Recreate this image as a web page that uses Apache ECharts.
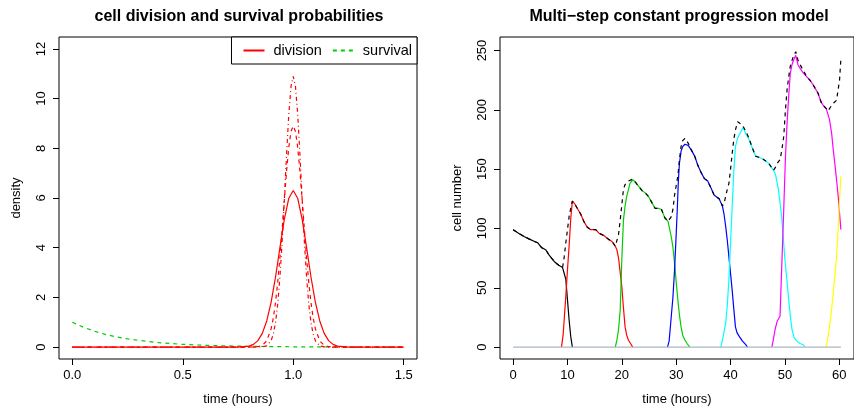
<!DOCTYPE html>
<html>
<head>
<meta charset="utf-8">
<script src="https://cdn.jsdelivr.net/npm/echarts@6/dist/echarts.min.js"></script>
<style>html,body{margin:0;padding:0;background:#fff}#c{width:854px;height:411px}</style>
</head>
<body>
<div id="c"></div>
<script>
// ---------- Left panel data ----------
const leftTicksX = [0, 0.5, 1, 1.5];
const leftTicksY = [0, 2, 4, 6, 8, 10, 12];
const divisionSolid = [[0,0],[0.6,0],[0.75,0],[0.8,0.04],[0.82,0.11],[0.84,0.26],[0.86,0.55],[0.88,1.05],[0.9,1.81],[0.92,2.83],[0.94,4.02],[0.96,5.16],[0.98,5.99],[1.0,6.3],[1.02,5.99],[1.04,5.16],[1.06,4.02],[1.08,2.83],[1.1,1.81],[1.12,1.05],[1.14,0.55],[1.16,0.26],[1.18,0.11],[1.2,0.04],[1.25,0],[1.5,0]];
const divisionDashed = [[0,0],[0.8,0],[0.84,0.015],[0.86,0.07],[0.88,0.25],[0.9,0.74],[0.91,1.18],[0.92,1.81],[0.93,2.63],[0.94,3.63],[0.95,4.77],[0.96,5.97],[0.97,7.11],[0.98,8.05],[0.99,8.68],[1.0,8.9],[1.01,8.68],[1.02,8.05],[1.03,7.11],[1.04,5.97],[1.05,4.77],[1.06,3.63],[1.07,2.63],[1.08,1.81],[1.09,1.18],[1.1,0.74],[1.12,0.25],[1.14,0.07],[1.16,0.015],[1.2,0],[1.5,0]];
const divisionDotDash = [[0,0],[0.84,0],[0.86,0.01],[0.88,0.05],[0.9,0.26],[0.91,0.53],[0.92,1.0],[0.93,1.75],[0.94,2.85],[0.95,4.29],[0.96,6.0],[0.97,7.79],[0.98,9.39],[0.99,10.5],[1.0,10.9],[1.01,10.5],[1.02,9.39],[1.03,7.79],[1.04,6.0],[1.05,4.29],[1.06,2.85],[1.07,1.75],[1.08,1.0],[1.09,0.53],[1.1,0.26],[1.12,0.05],[1.14,0.01],[1.16,0],[1.5,0]];
const survival = [[0,1.0],[0.05,0.8],[0.1,0.64],[0.15,0.51],[0.2,0.41],[0.25,0.33],[0.3,0.27],[0.4,0.17],[0.5,0.11],[0.6,0.07],[0.7,0.046],[0.8,0.03],[0.9,0.02],[1.0,0.012],[1.1,0.008],[1.2,0.005],[1.3,0.003],[1.4,0.002],[1.5,0.001]];

// ---------- Right panel data ----------
const rightTicksX = [0, 10, 20, 30, 40, 50, 60];
const rightTicksY = [0, 50, 100, 150, 200, 250];
const gen0 = [[0,99],[0.3,98],[1,96],[2.1,93],[3,91],[3.95,89],[4.5,88],[5.2,84],[6,82],[6.7,77],[7.6,72],[8.4,69],[9.1,67],[9.4,62],[9.7,57],[10.0,40],[10.3,23],[10.6,9],[10.9,0]];
const gen1 = [[8.9,0],[9.2,10],[9.5,30],[9.7,43],[10.0,65],[10.3,85],[10.6,108],[10.9,123],[11.3,121],[11.8,117],[12.45,112],[13,106],[13.65,101],[14.3,99],[15.2,99],[15.8,96],[16.7,94],[17.5,91],[18.2,89],[18.8,85],[19.1,82],[19.4,75],[19.7,63],[20.0,51],[20.3,33],[20.6,17],[20.9,10],[21.2,6],[21.6,3],[22.0,0]];
const gen2 = [[18.8,0],[19.1,6],[19.4,15],[19.7,31],[20.0,74],[20.3,107],[20.6,119],[20.9,127],[21.5,138],[22.0,141],[22.5,139],[23.0,136],[23.7,132],[24.3,130],[24.9,127],[25.5,122],[26.1,117],[26.7,117],[27.3,116],[27.9,109],[28.5,106],[29.1,93],[29.4,84],[29.7,71],[30.0,55],[30.3,40],[30.6,27],[30.9,17],[31.2,10],[31.6,6],[32.0,3],[32.5,0]];
const gen3 = [[28.4,0],[28.7,5],[29.1,26],[29.4,42],[29.7,65],[30.0,95],[30.2,116],[30.4,140],[30.6,155],[30.9,165],[31.2,169],[31.6,171],[32.2,170],[32.8,166],[33.4,161],[34.0,153],[34.6,147],[35.2,142],[35.8,140],[36.4,134],[37.0,128],[37.9,125],[38.5,119],[38.8,112],[39.1,102],[39.4,90],[39.7,76],[40.0,62],[40.3,48],[40.6,32],[40.9,17],[41.2,12],[41.6,9],[42.2,5],[42.8,2],[43.1,0]];
const gen4 = [[38.2,0],[38.6,8],[39.1,20],[39.4,35],[39.7,57],[40.0,88],[40.3,118],[40.6,148],[40.9,169],[41.3,176],[41.6,179],[42.3,185],[42.8,180],[43.4,175],[44.0,168],[44.6,161],[45.2,160],[45.8,159],[46.4,157],[47.0,155],[47.9,149],[48.3,145],[48.8,133],[49.1,122],[49.4,110],[49.7,92],[50.0,74],[50.4,55],[50.7,40],[51.0,26],[51.3,15],[51.7,8],[52.2,5],[52.8,3],[53.4,2],[53.6,0]];
const gen5 = [[47.6,0],[47.9,7],[48.2,15],[48.6,22],[49.1,26],[49.4,65],[49.8,118],[50.1,160],[50.4,189],[50.7,212],[51.0,231],[51.3,238],[51.6,242],[52.0,246],[52.4,238],[52.8,235],[53.4,231],[54.0,228],[54.6,225],[55.2,221],[55.7,217],[56.1,214],[56.7,206],[57.2,203],[57.6,201],[58.2,192],[58.6,180],[58.9,166],[59.2,154],[59.5,141],[59.8,127],[60.05,113],[60.3,99]];
const gen6 = [[57.6,0],[57.9,8],[58.2,17],[58.6,32],[58.9,46],[59.2,60],[59.5,76],[59.8,100],[60.05,124],[60.3,144]];
const zeroLine = [[0,0],[60.3,0]];
const total = [[0,99],[0.3,98],[1,96],[2.1,93],[3,91],[3.95,89],[4.5,88],[5.2,84],[6,82],[6.7,77],[7.6,72],[8.4,69],[9.1,67],[9.4,76],[9.7,88],[10.0,99],[10.3,110],[10.6,117],[10.9,123],[11.3,121],[11.8,117],[12.45,112],[13,106],[13.65,101],[14.3,99],[15.2,99],[15.8,96],[16.7,94],[17.5,91],[18.2,89],[18.8,85],[19.1,86],[19.4,95],[19.7,107],[20.0,120],[20.3,133],[20.6,137],[21.2,140],[22.0,141.6],[22.5,139],[23.0,136],[23.7,132],[24.3,130],[24.9,127],[25.5,122],[26.1,117],[26.7,117],[27.3,116],[27.9,109],[28.5,106],[28.8,106],[29.1,110],[29.4,116],[29.7,128],[30.0,136],[30.3,144],[30.6,158],[30.9,169],[31.2,174],[31.6,176],[32.2,172],[32.8,166],[33.4,161],[34.0,153],[34.6,147],[35.2,142],[35.8,140],[36.4,134],[37.0,128],[37.9,125],[38.5,119],[38.8,121],[39.1,127],[39.4,133],[39.7,138],[40.0,150],[40.3,163],[40.6,175],[40.9,183],[41.3,190],[42.2,187],[42.8,182],[43.4,176],[44.0,168],[44.6,161],[45.2,160],[45.8,159],[46.4,157],[47.0,155],[47.9,149],[48.2,151],[48.6,155],[49.1,158],[49.4,165],[49.8,178],[50.1,200],[50.4,217],[50.7,228],[51.0,237],[51.6,246],[52.0,249],[52.4,242],[52.8,238],[53.4,233],[54.0,228],[54.6,225],[55.2,221],[55.7,217],[56.1,214],[56.7,206],[57.2,203],[57.6,201],[57.9,199],[58.2,201],[58.5,203],[59.0,206],[59.5,208],[59.8,209],[60.05,225],[60.3,243]];

const FONT = '"Liberation Sans", Arial, Helvetica, sans-serif';
const chart = echarts.init(document.getElementById('c'), null, {renderer: 'canvas'});

function xAxisCfg(grid, min, max, ticks, name, fmt) {
  return {
    type: 'value', gridIndex: grid, min: min, max: max, position: 'bottom',
    name: name, nameLocation: 'middle', nameGap: 34,
    nameTextStyle: {fontFamily: FONT, fontSize: 13, color: '#000'},
    axisLine: {show: false, onZero: false},
    axisTick: {show: true, inside: false, length: 6, lineStyle: {color: '#000', width: 1}, customValues: ticks},
    axisLabel: {show: true, margin: 10, fontFamily: FONT, fontSize: 13, color: '#000', customValues: ticks, formatter: fmt},
    splitLine: {show: false}
  };
}
function yAxisCfg(grid, min, max, ticks, name) {
  return {
    type: 'value', gridIndex: grid, min: min, max: max, position: 'left',
    name: name, nameLocation: 'middle', nameGap: 36,
    nameTextStyle: {fontFamily: FONT, fontSize: 13, color: '#000'},
    axisLine: {show: false, onZero: false},
    axisTick: {show: true, inside: false, length: 6, lineStyle: {color: '#000', width: 1}, customValues: ticks},
    axisLabel: {show: true, margin: 11, rotate: 90, fontFamily: FONT, fontSize: 13, color: '#000', customValues: ticks, formatter: v => String(v)},
    splitLine: {show: false}
  };
}
function line(name, data, color, type, xi, z) {
  return {
    name: name, type: 'line', data: data, xAxisIndex: xi, yAxisIndex: xi,
    symbol: 'none', smooth: false, silent: true, z: z || 2,
    lineStyle: {color: color, width: 1.2, type: type},
    itemStyle: {color: color}
  };
}

const option = {
  animation: false,
  backgroundColor: '#fff',
  title: [
    {text: 'cell division and survival probabilities', left: 234, top: 4, textAlign: 'center',
     textStyle: {fontFamily: FONT, fontSize: 16, fontWeight: 'bold', color: '#000'}},
    {text: 'Multi\u2212step constant progression model', left: 674, top: 4, textAlign: 'center',
     textStyle: {fontFamily: FONT, fontSize: 16, fontWeight: 'bold', color: '#000'}}
  ],
  legend: {
    data: ['division', 'survival'],
    right: 437, top: 37, orient: 'horizontal',
    borderColor: '#000', borderWidth: 1, backgroundColor: '#fff', borderRadius: 0,
    padding: [6, 5, 6, 11], itemGap: 10, itemWidth: 21, itemHeight: 12,
    selectedMode: false,
    itemStyle: {opacity: 0},
    lineStyle: {opacity: 1},
    textStyle: {fontFamily: FONT, fontSize: 14.5, lineHeight: 13, color: '#000', padding: [0, 0, 0, 4]}
  },
  grid: [
    {left: 59, right: 437, top: 37, bottom: 52, show: true, borderColor: '#000', borderWidth: 1, backgroundColor: 'transparent'},
    {left: 500, right: -4, top: 37, bottom: 52, show: true, borderColor: '#000', borderWidth: 1, backgroundColor: 'transparent'}
  ],
  xAxis: [
    xAxisCfg(0, -0.06, 1.56, leftTicksX, 'time (hours)', v => v.toFixed(1)),
    xAxisCfg(1, -2.41, 62.71, rightTicksX, 'time (hours)', v => String(v))
  ],
  yAxis: [
    yAxisCfg(0, -0.48, 12.48, leftTicksY, 'density'),
    yAxisCfg(1, -10.06, 261.4, rightTicksY, 'cell number')
  ],
  series: [
    line('survival', survival, '#00CD00', [4, 4], 0, 2),
    line('division', divisionSolid, '#FF0000', 'solid', 0, 3),
    line('division (dashed)', divisionDashed, '#FF0000', [4, 4], 0, 3),
    line('division (dot-dash)', divisionDotDash, '#FF0000', [1, 3, 4, 3], 0, 3),
    line('gen0', gen0, '#000000', 'solid', 1, 2),
    line('gen1', gen1, '#FF0000', 'solid', 1, 2),
    line('gen2', gen2, '#00CD00', 'solid', 1, 2),
    line('gen3', gen3, '#0000FF', 'solid', 1, 2),
    line('gen4', gen4, '#00FFFF', 'solid', 1, 2),
    line('gen5', gen5, '#FF00FF', 'solid', 1, 2),
    line('gen6', gen6, '#FFFF00', 'solid', 1, 2),
    line('zero', zeroLine, '#A9B7C6', 'solid', 1, 3),
    line('total', total, '#000000', [4, 4], 1, 4)
  ]
};
chart.setOption(option);
</script>
</body>
</html>
